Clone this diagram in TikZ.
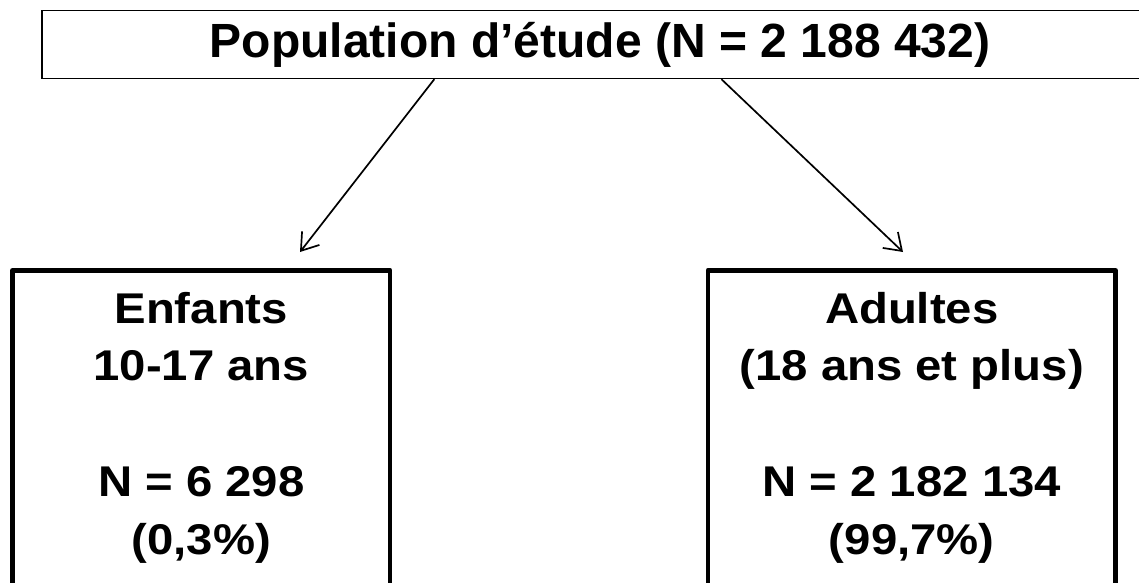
\documentclass[tikz,border=0pt]{standalone}
\usepackage{fontspec}
\setmainfont{Liberation Sans}
\newfontfamily\grpfont[FakeStretch=1.1]{Liberation Sans}
\usetikzlibrary{arrows.meta}
\begin{document}
\begin{tikzpicture}[x=1pt,y=-1pt,
  topbox/.style={draw, line width=1.3pt, minimum width=1116pt, minimum height=68pt, inner sep=0pt,
    font=\fontsize{48}{58}\selectfont\bfseries},
  grpbox/.style={draw, line width=4.8pt, line join=round, inner sep=0pt, anchor=north},
  grptext/.style={align=center, font=\grpfont\fontsize{43}{57.7}\selectfont\bfseries, inner sep=0pt, anchor=base},
  arr/.style={line width=1.7pt, -{Straight Barb[length=16pt,width=22pt]}}]
\useasboundingbox (0,0) rectangle (1139,582);
\fill[white] (0,0) rectangle (1139,582);
\node[topbox] (top) at (600,44.5) {Population d’étude (N = 2 188 432)};
\node[grpbox, minimum width=377.5pt, minimum height=400pt] (enf) at (201.25,268) {};
\node[grpbox, minimum width=407.5pt, minimum height=400pt] (adu) at (911.75,268) {};
\node[grptext] (enft) at (201.25,554) {Enfants\\10-17 ans\\[57.7pt]N = 6 298\\(0,3\%)};
\node[grptext] (adut) at (911.75,554) {Adultes\\(18 ans et plus)\\[57.7pt]N = 2 182 134\\(99,7\%)};
\coordinate (enfin) at (300,252);
\coordinate (aduin) at (903,252);
\draw[arr] ([xshift=393pt]top.south west) -- (enfin);
\draw[arr] ([xshift=680pt]top.south west) -- (aduin);
\end{tikzpicture}
\end{document}
